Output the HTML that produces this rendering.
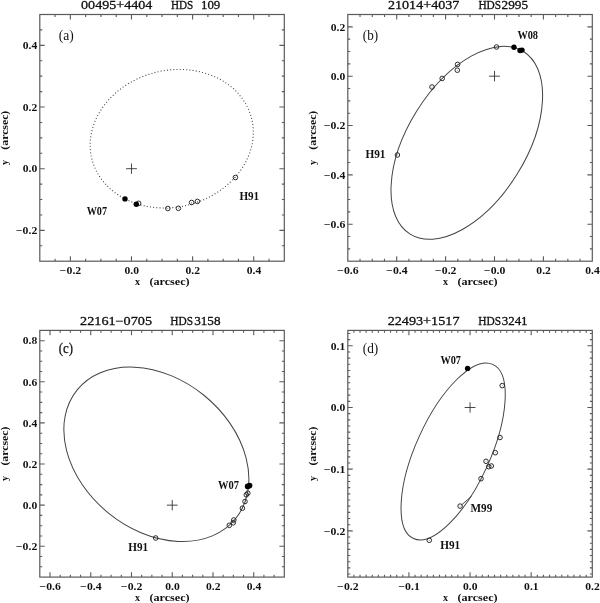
<!DOCTYPE html>
<html><head><meta charset="utf-8"><style>
html,body{margin:0;padding:0;background:#fff;}
svg{display:block;will-change:transform;}
text{font-family:"Liberation Serif", serif;fill:#111;}
.tl{font-size:10.4px;font-weight:bold;}
.at{font-size:10px;font-weight:bold;}
.tt{font-size:12px;stroke:#111;stroke-width:0.3px;}
.lb{font-size:12px;font-weight:bold;}
.pl{font-size:13.6px;}
</style></head><body>
<svg width="600" height="603" viewBox="0 0 600 603">
<rect width="600" height="603" fill="#fff"/>
<rect x="39.80" y="14.50" width="244.50" height="246.70" fill="none" stroke="#5a5a5a" stroke-width="1.2"/>
<path d="M55.08 261.20v-2.45M55.08 14.50v2.45M70.36 261.20v-4.9M70.36 14.50v4.9M85.64 261.20v-2.45M85.64 14.50v2.45M100.92 261.20v-2.45M100.92 14.50v2.45M116.21 261.20v-2.45M116.21 14.50v2.45M131.49 261.20v-4.9M131.49 14.50v4.9M146.77 261.20v-2.45M146.77 14.50v2.45M162.05 261.20v-2.45M162.05 14.50v2.45M177.33 261.20v-2.45M177.33 14.50v2.45M192.61 261.20v-4.9M192.61 14.50v4.9M207.89 261.20v-2.45M207.89 14.50v2.45M223.18 261.20v-2.45M223.18 14.50v2.45M238.46 261.20v-2.45M238.46 14.50v2.45M253.74 261.20v-4.9M253.74 14.50v4.9M269.02 261.20v-2.45M269.02 14.50v2.45M39.80 245.78h2.45M284.30 245.78h-2.45M39.80 230.36h4.9M284.30 230.36h-4.9M39.80 214.94h2.45M284.30 214.94h-2.45M39.80 199.53h2.45M284.30 199.53h-2.45M39.80 184.11h2.45M284.30 184.11h-2.45M39.80 168.69h4.9M284.30 168.69h-4.9M39.80 153.27h2.45M284.30 153.27h-2.45M39.80 137.85h2.45M284.30 137.85h-2.45M39.80 122.43h2.45M284.30 122.43h-2.45M39.80 107.01h4.9M284.30 107.01h-4.9M39.80 91.59h2.45M284.30 91.59h-2.45M39.80 76.17h2.45M284.30 76.17h-2.45M39.80 60.76h2.45M284.30 60.76h-2.45M39.80 45.34h4.9M284.30 45.34h-4.9M39.80 29.92h2.45M284.30 29.92h-2.45" fill="none" stroke="#5a5a5a" stroke-width="1.1"/>
<text x="70.56" y="274.30" class="tl" text-anchor="middle" textLength="21.4" lengthAdjust="spacingAndGlyphs">&#8722;0.2</text>
<text x="131.69" y="274.30" class="tl" text-anchor="middle" textLength="14.5" lengthAdjust="spacingAndGlyphs">0.0</text>
<text x="192.81" y="274.30" class="tl" text-anchor="middle" textLength="14.5" lengthAdjust="spacingAndGlyphs">0.2</text>
<text x="253.94" y="274.30" class="tl" text-anchor="middle" textLength="14.5" lengthAdjust="spacingAndGlyphs">0.4</text>
<text x="37.30" y="234.06" class="tl" text-anchor="end" textLength="21.4" lengthAdjust="spacingAndGlyphs">&#8722;0.2</text>
<text x="37.30" y="172.39" class="tl" text-anchor="end" textLength="14.5" lengthAdjust="spacingAndGlyphs">0.0</text>
<text x="37.30" y="110.71" class="tl" text-anchor="end" textLength="14.5" lengthAdjust="spacingAndGlyphs">0.2</text>
<text x="37.30" y="49.04" class="tl" text-anchor="end" textLength="14.5" lengthAdjust="spacingAndGlyphs">0.4</text>
<text x="135.05" y="285.40" class="at">x</text>
<text x="149.45" y="285.40" class="at" textLength="40.2" lengthAdjust="spacingAndGlyphs">(arcsec)</text>
<g transform="translate(8.30,137.85) rotate(-90)"><text x="-27.2" y="0" class="at">y</text><text x="-11.8" y="0" class="at" textLength="38.9" lengthAdjust="spacingAndGlyphs">(arcsec)</text></g>
<text x="81.10" y="8.8" class="tt" textLength="71.20" lengthAdjust="spacingAndGlyphs">00495+4404</text>
<text x="171.00" y="8.8" class="tt" textLength="22.30" lengthAdjust="spacingAndGlyphs">HDS</text>
<text x="201.00" y="8.8" class="tt" textLength="19.30" lengthAdjust="spacingAndGlyphs">109</text>
<text x="58.7" y="39.9" class="pl" textLength="15" lengthAdjust="spacingAndGlyphs">(a)</text>
<ellipse cx="171.74" cy="138.71" rx="82.41" ry="68.29" transform="rotate(165.38 171.74 138.71)" fill="none" stroke="#444" stroke-width="1.1" stroke-dasharray="1 2.2"/>
<path d="M126.09 168.69h10.8M131.49 163.49v10.4" stroke="#333" stroke-width="0.9" fill="none"/>
<circle cx="138.6" cy="203.3" r="2.3" fill="none" stroke="#222" stroke-width="0.95"/><circle cx="138.6" cy="203.3" r="0.45" fill="#555"/>
<circle cx="167.8" cy="208.5" r="2.3" fill="none" stroke="#222" stroke-width="0.95"/><circle cx="167.8" cy="208.5" r="0.45" fill="#555"/>
<circle cx="178.4" cy="208.3" r="2.3" fill="none" stroke="#222" stroke-width="0.95"/><circle cx="178.4" cy="208.3" r="0.45" fill="#555"/>
<circle cx="191.6" cy="202.5" r="2.3" fill="none" stroke="#222" stroke-width="0.95"/><circle cx="191.6" cy="202.5" r="0.45" fill="#555"/>
<circle cx="197.4" cy="201.4" r="2.3" fill="none" stroke="#222" stroke-width="0.95"/><circle cx="197.4" cy="201.4" r="0.45" fill="#555"/>
<circle cx="235.4" cy="177.5" r="2.3" fill="none" stroke="#222" stroke-width="0.95"/><circle cx="235.4" cy="177.5" r="0.45" fill="#555"/>
<circle cx="125" cy="198.9" r="2.7" fill="#000"/>
<circle cx="136.3" cy="204.3" r="2.7" fill="#000"/>
<text x="86.70" y="214.9" class="lb" textLength="20.30" lengthAdjust="spacingAndGlyphs">W07</text>
<text x="239.40" y="199.6" class="lb" textLength="19.80" lengthAdjust="spacingAndGlyphs">H91</text>
<rect x="347.80" y="14.50" width="244.50" height="246.70" fill="none" stroke="#5a5a5a" stroke-width="1.2"/>
<path d="M360.02 261.20v-2.45M360.02 14.50v2.45M372.25 261.20v-2.45M372.25 14.50v2.45M384.48 261.20v-2.45M384.48 14.50v2.45M396.70 261.20v-4.9M396.70 14.50v4.9M408.92 261.20v-2.45M408.92 14.50v2.45M421.15 261.20v-2.45M421.15 14.50v2.45M433.38 261.20v-2.45M433.38 14.50v2.45M445.60 261.20v-4.9M445.60 14.50v4.9M457.82 261.20v-2.45M457.82 14.50v2.45M470.05 261.20v-2.45M470.05 14.50v2.45M482.27 261.20v-2.45M482.27 14.50v2.45M494.50 261.20v-4.9M494.50 14.50v4.9M506.72 261.20v-2.45M506.72 14.50v2.45M518.95 261.20v-2.45M518.95 14.50v2.45M531.17 261.20v-2.45M531.17 14.50v2.45M543.40 261.20v-4.9M543.40 14.50v4.9M555.62 261.20v-2.45M555.62 14.50v2.45M567.85 261.20v-2.45M567.85 14.50v2.45M580.07 261.20v-2.45M580.07 14.50v2.45M347.80 248.87h2.45M592.30 248.87h-2.45M347.80 236.53h2.45M592.30 236.53h-2.45M347.80 224.20h4.9M592.30 224.20h-4.9M347.80 211.86h2.45M592.30 211.86h-2.45M347.80 199.52h2.45M592.30 199.52h-2.45M347.80 187.19h2.45M592.30 187.19h-2.45M347.80 174.86h4.9M592.30 174.86h-4.9M347.80 162.52h2.45M592.30 162.52h-2.45M347.80 150.19h2.45M592.30 150.19h-2.45M347.80 137.85h2.45M592.30 137.85h-2.45M347.80 125.51h4.9M592.30 125.51h-4.9M347.80 113.18h2.45M592.30 113.18h-2.45M347.80 100.84h2.45M592.30 100.84h-2.45M347.80 88.51h2.45M592.30 88.51h-2.45M347.80 76.18h4.9M592.30 76.18h-4.9M347.80 63.84h2.45M592.30 63.84h-2.45M347.80 51.50h2.45M592.30 51.50h-2.45M347.80 39.17h2.45M592.30 39.17h-2.45M347.80 26.84h4.9M592.30 26.84h-4.9" fill="none" stroke="#5a5a5a" stroke-width="1.1"/>
<text x="348.00" y="274.30" class="tl" text-anchor="middle" textLength="21.4" lengthAdjust="spacingAndGlyphs">&#8722;0.6</text>
<text x="396.90" y="274.30" class="tl" text-anchor="middle" textLength="21.4" lengthAdjust="spacingAndGlyphs">&#8722;0.4</text>
<text x="445.80" y="274.30" class="tl" text-anchor="middle" textLength="21.4" lengthAdjust="spacingAndGlyphs">&#8722;0.2</text>
<text x="494.70" y="274.30" class="tl" text-anchor="middle" textLength="21.4" lengthAdjust="spacingAndGlyphs">&#8722;0.0</text>
<text x="543.60" y="274.30" class="tl" text-anchor="middle" textLength="14.5" lengthAdjust="spacingAndGlyphs">0.2</text>
<text x="592.50" y="274.30" class="tl" text-anchor="middle" textLength="14.5" lengthAdjust="spacingAndGlyphs">0.4</text>
<text x="345.30" y="227.89" class="tl" text-anchor="end" textLength="21.4" lengthAdjust="spacingAndGlyphs">&#8722;0.6</text>
<text x="345.30" y="178.56" class="tl" text-anchor="end" textLength="21.4" lengthAdjust="spacingAndGlyphs">&#8722;0.4</text>
<text x="345.30" y="129.21" class="tl" text-anchor="end" textLength="21.4" lengthAdjust="spacingAndGlyphs">&#8722;0.2</text>
<text x="345.30" y="79.88" class="tl" text-anchor="end" textLength="14.5" lengthAdjust="spacingAndGlyphs">0.0</text>
<text x="345.30" y="30.54" class="tl" text-anchor="end" textLength="14.5" lengthAdjust="spacingAndGlyphs">0.2</text>
<text x="443.05" y="285.40" class="at">x</text>
<text x="457.45" y="285.40" class="at" textLength="40.2" lengthAdjust="spacingAndGlyphs">(arcsec)</text>
<g transform="translate(316.30,137.85) rotate(-90)"><text x="-27.2" y="0" class="at">y</text><text x="-11.8" y="0" class="at" textLength="38.9" lengthAdjust="spacingAndGlyphs">(arcsec)</text></g>
<text x="388.00" y="8.8" class="tt" textLength="71.30" lengthAdjust="spacingAndGlyphs">21014+4037</text>
<text x="478.40" y="8.8" class="tt" textLength="22.70" lengthAdjust="spacingAndGlyphs">HDS</text>
<text x="501.50" y="8.8" class="tt" textLength="26.50" lengthAdjust="spacingAndGlyphs">2995</text>
<text x="362.8" y="40.1" class="pl" textLength="15.3" lengthAdjust="spacingAndGlyphs">(b)</text>
<ellipse cx="466.81" cy="142.82" rx="107.45" ry="59.28" transform="rotate(-58.18 466.81 142.82)" fill="none" stroke="#444" stroke-width="1"/>
<path d="M489.10 76.18h10.8M494.50 70.98v10.4" stroke="#333" stroke-width="0.9" fill="none"/>
<circle cx="496.5" cy="47" r="2.3" fill="none" stroke="#222" stroke-width="0.95"/><circle cx="496.5" cy="47" r="0.45" fill="#555"/>
<circle cx="457.6" cy="64.4" r="2.3" fill="none" stroke="#222" stroke-width="0.95"/><circle cx="457.6" cy="64.4" r="0.45" fill="#555"/>
<circle cx="457.3" cy="70.2" r="2.3" fill="none" stroke="#222" stroke-width="0.95"/><circle cx="457.3" cy="70.2" r="0.45" fill="#555"/>
<circle cx="442.2" cy="78.4" r="2.3" fill="none" stroke="#222" stroke-width="0.95"/><circle cx="442.2" cy="78.4" r="0.45" fill="#555"/>
<circle cx="432" cy="87" r="2.3" fill="none" stroke="#222" stroke-width="0.95"/><circle cx="432" cy="87" r="0.45" fill="#555"/>
<circle cx="397.4" cy="155" r="2.3" fill="none" stroke="#222" stroke-width="0.95"/><circle cx="397.4" cy="155" r="0.45" fill="#555"/>
<circle cx="514" cy="47.2" r="2.7" fill="#000"/>
<circle cx="520" cy="50.5" r="2.7" fill="#000"/>
<circle cx="522" cy="50.1" r="2.7" fill="#000"/>
<text x="517.40" y="39.1" class="lb" textLength="20.60" lengthAdjust="spacingAndGlyphs">W08</text>
<text x="365.40" y="157.8" class="lb" textLength="20.10" lengthAdjust="spacingAndGlyphs">H91</text>
<rect x="39.80" y="330.40" width="244.50" height="246.70" fill="none" stroke="#5a5a5a" stroke-width="1.2"/>
<path d="M49.99 577.10v-4.9M49.99 330.40v4.9M60.17 577.10v-2.45M60.17 330.40v2.45M70.36 577.10v-2.45M70.36 330.40v2.45M80.55 577.10v-2.45M80.55 330.40v2.45M90.74 577.10v-4.9M90.74 330.40v4.9M100.92 577.10v-2.45M100.92 330.40v2.45M111.11 577.10v-2.45M111.11 330.40v2.45M121.30 577.10v-2.45M121.30 330.40v2.45M131.49 577.10v-4.9M131.49 330.40v4.9M141.67 577.10v-2.45M141.67 330.40v2.45M151.86 577.10v-2.45M151.86 330.40v2.45M162.05 577.10v-2.45M162.05 330.40v2.45M172.24 577.10v-4.9M172.24 330.40v4.9M182.42 577.10v-2.45M182.42 330.40v2.45M192.61 577.10v-2.45M192.61 330.40v2.45M202.80 577.10v-2.45M202.80 330.40v2.45M212.99 577.10v-4.9M212.99 330.40v4.9M223.17 577.10v-2.45M223.17 330.40v2.45M233.36 577.10v-2.45M233.36 330.40v2.45M243.55 577.10v-2.45M243.55 330.40v2.45M253.74 577.10v-4.9M253.74 330.40v4.9M263.93 577.10v-2.45M263.93 330.40v2.45M274.11 577.10v-2.45M274.11 330.40v2.45M39.80 566.82h2.45M284.30 566.82h-2.45M39.80 556.54h2.45M284.30 556.54h-2.45M39.80 546.26h4.9M284.30 546.26h-4.9M39.80 535.98h2.45M284.30 535.98h-2.45M39.80 525.70h2.45M284.30 525.70h-2.45M39.80 515.42h2.45M284.30 515.42h-2.45M39.80 505.15h4.9M284.30 505.15h-4.9M39.80 494.87h2.45M284.30 494.87h-2.45M39.80 484.59h2.45M284.30 484.59h-2.45M39.80 474.31h2.45M284.30 474.31h-2.45M39.80 464.03h4.9M284.30 464.03h-4.9M39.80 453.75h2.45M284.30 453.75h-2.45M39.80 443.47h2.45M284.30 443.47h-2.45M39.80 433.19h2.45M284.30 433.19h-2.45M39.80 422.91h4.9M284.30 422.91h-4.9M39.80 412.63h2.45M284.30 412.63h-2.45M39.80 402.35h2.45M284.30 402.35h-2.45M39.80 392.07h2.45M284.30 392.07h-2.45M39.80 381.80h4.9M284.30 381.80h-4.9M39.80 371.52h2.45M284.30 371.52h-2.45M39.80 361.24h2.45M284.30 361.24h-2.45M39.80 350.96h2.45M284.30 350.96h-2.45M39.80 340.68h4.9M284.30 340.68h-4.9" fill="none" stroke="#5a5a5a" stroke-width="1.1"/>
<text x="50.19" y="590.20" class="tl" text-anchor="middle" textLength="21.4" lengthAdjust="spacingAndGlyphs">&#8722;0.6</text>
<text x="90.94" y="590.20" class="tl" text-anchor="middle" textLength="21.4" lengthAdjust="spacingAndGlyphs">&#8722;0.4</text>
<text x="131.69" y="590.20" class="tl" text-anchor="middle" textLength="21.4" lengthAdjust="spacingAndGlyphs">&#8722;0.2</text>
<text x="172.44" y="590.20" class="tl" text-anchor="middle" textLength="14.5" lengthAdjust="spacingAndGlyphs">0.0</text>
<text x="213.19" y="590.20" class="tl" text-anchor="middle" textLength="14.5" lengthAdjust="spacingAndGlyphs">0.2</text>
<text x="253.94" y="590.20" class="tl" text-anchor="middle" textLength="14.5" lengthAdjust="spacingAndGlyphs">0.4</text>
<text x="37.30" y="549.96" class="tl" text-anchor="end" textLength="21.4" lengthAdjust="spacingAndGlyphs">&#8722;0.2</text>
<text x="37.30" y="508.85" class="tl" text-anchor="end" textLength="14.5" lengthAdjust="spacingAndGlyphs">0.0</text>
<text x="37.30" y="467.73" class="tl" text-anchor="end" textLength="14.5" lengthAdjust="spacingAndGlyphs">0.2</text>
<text x="37.30" y="426.61" class="tl" text-anchor="end" textLength="14.5" lengthAdjust="spacingAndGlyphs">0.4</text>
<text x="37.30" y="385.50" class="tl" text-anchor="end" textLength="14.5" lengthAdjust="spacingAndGlyphs">0.6</text>
<text x="37.30" y="344.38" class="tl" text-anchor="end" textLength="14.5" lengthAdjust="spacingAndGlyphs">0.8</text>
<text x="135.05" y="601.30" class="at">x</text>
<text x="149.45" y="601.30" class="at" textLength="40.2" lengthAdjust="spacingAndGlyphs">(arcsec)</text>
<g transform="translate(8.30,453.75) rotate(-90)"><text x="-27.2" y="0" class="at">y</text><text x="-11.8" y="0" class="at" textLength="38.9" lengthAdjust="spacingAndGlyphs">(arcsec)</text></g>
<text x="80.10" y="324.8" class="tt" textLength="71.90" lengthAdjust="spacingAndGlyphs">22161&#8722;0705</text>
<text x="170.30" y="324.8" class="tt" textLength="22.70" lengthAdjust="spacingAndGlyphs">HDS</text>
<text x="194.20" y="324.8" class="tt" textLength="26.30" lengthAdjust="spacingAndGlyphs">3158</text>
<text x="58.8" y="352.6" class="pl" textLength="14.2" lengthAdjust="spacingAndGlyphs" style="stroke:#111;stroke-width:0.25px">(c)</text>
<ellipse cx="156.36" cy="454.29" rx="102.09" ry="75.83" transform="rotate(39.16 156.36 454.29)" fill="none" stroke="#444" stroke-width="1"/>
<path d="M166.84 505.15h10.8M172.24 499.95v10.4" stroke="#333" stroke-width="0.9" fill="none"/>
<circle cx="155.7" cy="538" r="2.3" fill="none" stroke="#222" stroke-width="0.95"/><circle cx="155.7" cy="538" r="0.45" fill="#555"/>
<circle cx="229.3" cy="525.3" r="2.3" fill="none" stroke="#222" stroke-width="0.95"/><circle cx="229.3" cy="525.3" r="0.45" fill="#555"/>
<circle cx="233.2" cy="522.8" r="2.3" fill="none" stroke="#222" stroke-width="0.95"/><circle cx="233.2" cy="522.8" r="0.45" fill="#555"/>
<circle cx="233.8" cy="520" r="2.3" fill="none" stroke="#222" stroke-width="0.95"/><circle cx="233.8" cy="520" r="0.45" fill="#555"/>
<circle cx="242.4" cy="508.2" r="2.3" fill="none" stroke="#222" stroke-width="0.95"/><circle cx="242.4" cy="508.2" r="0.45" fill="#555"/>
<circle cx="245" cy="501.5" r="2.3" fill="none" stroke="#222" stroke-width="0.95"/><circle cx="245" cy="501.5" r="0.45" fill="#555"/>
<circle cx="246.3" cy="494.8" r="2.3" fill="none" stroke="#222" stroke-width="0.95"/><circle cx="246.3" cy="494.8" r="0.45" fill="#555"/>
<circle cx="247.8" cy="493.2" r="2.3" fill="none" stroke="#222" stroke-width="0.95"/><circle cx="247.8" cy="493.2" r="0.45" fill="#555"/>
<circle cx="247.6" cy="486.4" r="2.8" fill="#000"/>
<circle cx="249.6" cy="485.6" r="2.8" fill="#000"/>
<text x="218.00" y="488.7" class="lb" textLength="21.00" lengthAdjust="spacingAndGlyphs">W07</text>
<text x="128.30" y="550.8" class="lb" textLength="19.90" lengthAdjust="spacingAndGlyphs">H91</text>
<rect x="347.80" y="330.40" width="244.50" height="246.70" fill="none" stroke="#5a5a5a" stroke-width="1.2"/>
<path d="M353.91 577.10v-2.45M353.91 330.40v2.45M360.03 577.10v-2.45M360.03 330.40v2.45M366.14 577.10v-2.45M366.14 330.40v2.45M372.25 577.10v-2.45M372.25 330.40v2.45M378.36 577.10v-2.45M378.36 330.40v2.45M384.48 577.10v-2.45M384.48 330.40v2.45M390.59 577.10v-2.45M390.59 330.40v2.45M396.70 577.10v-2.45M396.70 330.40v2.45M402.81 577.10v-2.45M402.81 330.40v2.45M408.93 577.10v-4.9M408.93 330.40v4.9M415.04 577.10v-2.45M415.04 330.40v2.45M421.15 577.10v-2.45M421.15 330.40v2.45M427.26 577.10v-2.45M427.26 330.40v2.45M433.38 577.10v-2.45M433.38 330.40v2.45M439.49 577.10v-2.45M439.49 330.40v2.45M445.60 577.10v-2.45M445.60 330.40v2.45M451.71 577.10v-2.45M451.71 330.40v2.45M457.82 577.10v-2.45M457.82 330.40v2.45M463.94 577.10v-2.45M463.94 330.40v2.45M470.05 577.10v-4.9M470.05 330.40v4.9M476.16 577.10v-2.45M476.16 330.40v2.45M482.27 577.10v-2.45M482.27 330.40v2.45M488.39 577.10v-2.45M488.39 330.40v2.45M494.50 577.10v-2.45M494.50 330.40v2.45M500.61 577.10v-2.45M500.61 330.40v2.45M506.72 577.10v-2.45M506.72 330.40v2.45M512.84 577.10v-2.45M512.84 330.40v2.45M518.95 577.10v-2.45M518.95 330.40v2.45M525.06 577.10v-2.45M525.06 330.40v2.45M531.17 577.10v-4.9M531.17 330.40v4.9M537.29 577.10v-2.45M537.29 330.40v2.45M543.40 577.10v-2.45M543.40 330.40v2.45M549.51 577.10v-2.45M549.51 330.40v2.45M555.62 577.10v-2.45M555.62 330.40v2.45M561.74 577.10v-2.45M561.74 330.40v2.45M567.85 577.10v-2.45M567.85 330.40v2.45M573.96 577.10v-2.45M573.96 330.40v2.45M580.07 577.10v-2.45M580.07 330.40v2.45M586.19 577.10v-2.45M586.19 330.40v2.45M347.80 574.02h2.45M592.30 574.02h-2.45M347.80 567.85h2.45M592.30 567.85h-2.45M347.80 561.68h2.45M592.30 561.68h-2.45M347.80 555.51h2.45M592.30 555.51h-2.45M347.80 549.35h2.45M592.30 549.35h-2.45M347.80 543.18h2.45M592.30 543.18h-2.45M347.80 537.01h2.45M592.30 537.01h-2.45M347.80 530.84h4.9M592.30 530.84h-4.9M347.80 524.68h2.45M592.30 524.68h-2.45M347.80 518.51h2.45M592.30 518.51h-2.45M347.80 512.34h2.45M592.30 512.34h-2.45M347.80 506.17h2.45M592.30 506.17h-2.45M347.80 500.01h2.45M592.30 500.01h-2.45M347.80 493.84h2.45M592.30 493.84h-2.45M347.80 487.67h2.45M592.30 487.67h-2.45M347.80 481.50h2.45M592.30 481.50h-2.45M347.80 475.34h2.45M592.30 475.34h-2.45M347.80 469.17h4.9M592.30 469.17h-4.9M347.80 463.00h2.45M592.30 463.00h-2.45M347.80 456.83h2.45M592.30 456.83h-2.45M347.80 450.67h2.45M592.30 450.67h-2.45M347.80 444.50h2.45M592.30 444.50h-2.45M347.80 438.33h2.45M592.30 438.33h-2.45M347.80 432.16h2.45M592.30 432.16h-2.45M347.80 426.00h2.45M592.30 426.00h-2.45M347.80 419.83h2.45M592.30 419.83h-2.45M347.80 413.66h2.45M592.30 413.66h-2.45M347.80 407.49h4.9M592.30 407.49h-4.9M347.80 401.33h2.45M592.30 401.33h-2.45M347.80 395.16h2.45M592.30 395.16h-2.45M347.80 388.99h2.45M592.30 388.99h-2.45M347.80 382.82h2.45M592.30 382.82h-2.45M347.80 376.66h2.45M592.30 376.66h-2.45M347.80 370.49h2.45M592.30 370.49h-2.45M347.80 364.32h2.45M592.30 364.32h-2.45M347.80 358.15h2.45M592.30 358.15h-2.45M347.80 351.99h2.45M592.30 351.99h-2.45M347.80 345.82h4.9M592.30 345.82h-4.9M347.80 339.65h2.45M592.30 339.65h-2.45M347.80 333.48h2.45M592.30 333.48h-2.45" fill="none" stroke="#5a5a5a" stroke-width="1.1"/>
<text x="348.00" y="590.20" class="tl" text-anchor="middle" textLength="21.4" lengthAdjust="spacingAndGlyphs">&#8722;0.2</text>
<text x="409.12" y="590.20" class="tl" text-anchor="middle" textLength="21.4" lengthAdjust="spacingAndGlyphs">&#8722;0.1</text>
<text x="470.25" y="590.20" class="tl" text-anchor="middle" textLength="14.5" lengthAdjust="spacingAndGlyphs">0.0</text>
<text x="531.38" y="590.20" class="tl" text-anchor="middle" textLength="14.5" lengthAdjust="spacingAndGlyphs">0.1</text>
<text x="592.50" y="590.20" class="tl" text-anchor="middle" textLength="14.5" lengthAdjust="spacingAndGlyphs">0.2</text>
<text x="345.30" y="534.54" class="tl" text-anchor="end" textLength="21.4" lengthAdjust="spacingAndGlyphs">&#8722;0.2</text>
<text x="345.30" y="472.87" class="tl" text-anchor="end" textLength="21.4" lengthAdjust="spacingAndGlyphs">&#8722;0.1</text>
<text x="345.30" y="411.19" class="tl" text-anchor="end" textLength="14.5" lengthAdjust="spacingAndGlyphs">0.0</text>
<text x="345.30" y="349.52" class="tl" text-anchor="end" textLength="14.5" lengthAdjust="spacingAndGlyphs">0.1</text>
<text x="443.05" y="601.30" class="at">x</text>
<text x="457.45" y="601.30" class="at" textLength="40.2" lengthAdjust="spacingAndGlyphs">(arcsec)</text>
<g transform="translate(316.30,453.75) rotate(-90)"><text x="-27.2" y="0" class="at">y</text><text x="-11.8" y="0" class="at" textLength="38.9" lengthAdjust="spacingAndGlyphs">(arcsec)</text></g>
<text x="387.70" y="324.8" class="tt" textLength="71.80" lengthAdjust="spacingAndGlyphs">22493+1517</text>
<text x="478.20" y="324.8" class="tt" textLength="22.80" lengthAdjust="spacingAndGlyphs">HDS</text>
<text x="501.70" y="324.8" class="tt" textLength="25.90" lengthAdjust="spacingAndGlyphs">3241</text>
<text x="362.8" y="353.1" class="pl" textLength="15.5" lengthAdjust="spacingAndGlyphs">(d)</text>
<ellipse cx="453.14" cy="451.47" rx="95.69" ry="37.12" transform="rotate(-65.52 453.14 451.47)" fill="none" stroke="#444" stroke-width="1"/>
<path d="M464.65 407.49h10.8M470.05 402.29v10.4" stroke="#333" stroke-width="0.9" fill="none"/>
<path d="M461.5 505 L471.5 496.3" stroke="#333" stroke-width="0.9"/>
<circle cx="502.2" cy="385.6" r="2.3" fill="none" stroke="#222" stroke-width="0.95"/><circle cx="502.2" cy="385.6" r="0.45" fill="#555"/>
<circle cx="500" cy="437.5" r="2.3" fill="none" stroke="#222" stroke-width="0.95"/><circle cx="500" cy="437.5" r="0.45" fill="#555"/>
<circle cx="495.3" cy="452.7" r="2.3" fill="none" stroke="#222" stroke-width="0.95"/><circle cx="495.3" cy="452.7" r="0.45" fill="#555"/>
<circle cx="486" cy="461.3" r="2.3" fill="none" stroke="#222" stroke-width="0.95"/><circle cx="486" cy="461.3" r="0.45" fill="#555"/>
<circle cx="491.3" cy="466" r="2.3" fill="none" stroke="#222" stroke-width="0.95"/><circle cx="491.3" cy="466" r="0.45" fill="#555"/>
<circle cx="488.7" cy="466.7" r="2.3" fill="none" stroke="#222" stroke-width="0.95"/><circle cx="488.7" cy="466.7" r="0.45" fill="#555"/>
<circle cx="481" cy="478.7" r="2.3" fill="none" stroke="#222" stroke-width="0.95"/><circle cx="481" cy="478.7" r="0.45" fill="#555"/>
<circle cx="460.1" cy="506.1" r="2.3" fill="none" stroke="#222" stroke-width="0.95"/><circle cx="460.1" cy="506.1" r="0.45" fill="#555"/>
<circle cx="429.3" cy="540.3" r="2.3" fill="none" stroke="#222" stroke-width="0.95"/><circle cx="429.3" cy="540.3" r="0.45" fill="#555"/>
<circle cx="467.6" cy="368.4" r="2.7" fill="#000"/>
<text x="440.40" y="364.2" class="lb" textLength="20.50" lengthAdjust="spacingAndGlyphs">W07</text>
<text x="470.50" y="512.3" class="lb" textLength="21.80" lengthAdjust="spacingAndGlyphs">M99</text>
<text x="440.20" y="549.4" class="lb" textLength="20.00" lengthAdjust="spacingAndGlyphs">H91</text>
</svg></body></html>
